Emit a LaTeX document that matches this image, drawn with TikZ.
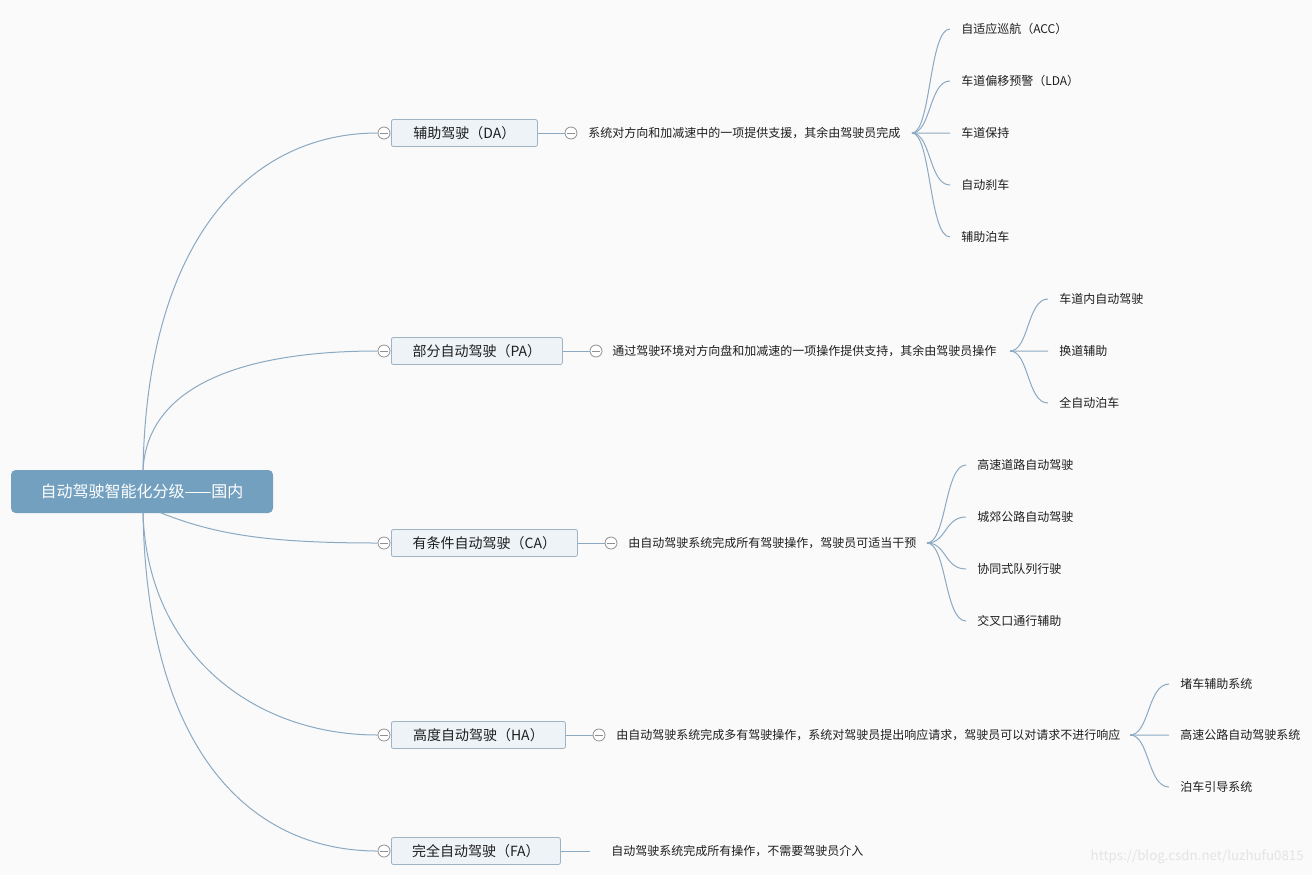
\documentclass[tikz,border=0pt]{standalone}
\usepackage{fontspec}
\setmainfont{Noto Sans CJK SC}
\usetikzlibrary{calc}
\definecolor{bg}{HTML}{FAFAFA}
\definecolor{rootfill}{HTML}{73A0BF}
\definecolor{boxfill}{HTML}{EEF3F7}
\definecolor{boxline}{HTML}{9FB3C3}
\definecolor{linkc}{HTML}{8BA9C2}
\definecolor{colc}{HTML}{909090}
\definecolor{txt}{HTML}{1E1E1E}
\definecolor{wm}{HTML}{E4E4E4}
\tikzset{
  rootbox/.style={fill=rootfill, rounded corners=3.5pt, minimum width=196.5pt, minimum height=32.25pt, text=white, font=\fontsize{12}{14}\selectfont, inner sep=0pt},
  l1box/.style={draw=boxline, line width=0.6pt, fill=boxfill, rounded corners=1.5pt, minimum height=20.25pt, anchor=west, text=txt, font=\fontsize{10.5}{12}\selectfont, inner sep=0pt},
  l2text/.style={anchor=west, inner sep=0pt, text=txt, font=\fontsize{9}{11}\selectfont},
  leaf/.style={anchor=west, inner xsep=8.25pt, inner ysep=0pt, text=txt, font=\fontsize{9}{11}\selectfont},
  colbtn/.style={circle, draw=colc, line width=0.6pt, fill=white, minimum size=9pt, inner sep=0pt,
    path picture={\draw[colc, line width=0.6pt] ($(path picture bounding box.center)+(-3pt,0)$) -- ($(path picture bounding box.center)+(3pt,0)$);}},
  link/.style={draw=linkc, line width=0.75pt},
}
\newcommand{\twig}[2]{\draw[link] (#1) .. controls ($(#1)!0.5!(#1 -| #2.west)$) and ($(#2.west)!0.55!(#1 |- #2.west)$) .. (#2.west);}
\begin{document}
\begin{tikzpicture}[x=0.75pt,y=-0.75pt]
\fill[bg] (0,0) rectangle (1312,875);
\useasboundingbox (0,0) rectangle (1312,875);

% root
\node[rootbox] (root) at (142,491.5) {自动驾驶智能化分级——国内};
\coordinate (rt) at (143,470.5);
\coordinate (rb) at (143,512.5);
\coordinate (rbc) at (160,512.5);

% level 1 boxes
\node[l1box, minimum width=109.5pt] (da) at (391,133) {辅助驾驶（DA）};
\node[l1box, minimum width=128.25pt] (pa) at (391,351) {部分自动驾驶（PA）};
\node[l1box, minimum width=139.5pt] (ca) at (391,543) {有条件自动驾驶（CA）};
\node[l1box, minimum width=130.5pt] (ha) at (391,735) {高度自动驾驶（HA）};
\node[l1box, minimum width=126.75pt] (fa) at (391,851) {完全自动驾驶（FA）};

% left collapse buttons
\node[colbtn] (dac) at (384,133) {};
\node[colbtn] (pac) at (384,351) {};
\node[colbtn] (cac) at (384,543) {};
\node[colbtn] (hac) at (384,735) {};
\node[colbtn] (fac) at (384,851) {};

% root connectors
\draw[link] (rt) .. controls +(4,-235) and +(-125,0) .. (dac.west);
\draw[link] (rt) .. controls +(4,-85) and +(-135,0) .. (pac.west);
\draw[link] (rbc) .. controls +(55,22) and +(-110,0) .. (cac.west);
\draw[link] (rb) .. controls +(4,140) and +(-125,0) .. (hac.west);
\draw[link] (rb) .. controls +(4,235) and +(-130,0) .. (fac.west);

% right collapse buttons
\node[colbtn] (dar) at (571,133) {};
\node[colbtn] (par) at (596,351) {};
\node[colbtn] (car) at (611,543) {};
\node[colbtn] (har) at (599,735) {};
\draw[link] (da.east) -- (dar.west);
\draw[link] (pa.east) -- (par.west);
\draw[link] (ca.east) -- (car.west);
\draw[link] (ha.east) -- (har.west);

% level 2 texts
\node[l2text] (dat) at (588,133) {系统对方向和加减速中的一项提供支援，其余由驾驶员完成};
\node[l2text] (pat) at (612,351) {通过驾驶环境对方向盘和加减速的一项操作提供支持，其余由驾驶员操作};
\node[l2text] (cat) at (628,543) {由自动驾驶系统完成所有驾驶操作，驾驶员可适当干预};
\node[l2text] (hat) at (616,735) {由自动驾驶系统完成多有驾驶操作，系统对驾驶员提出响应请求，驾驶员可以对请求不进行响应};
\node[l2text] (fat) at (611,851) {自动驾驶系统完成所有操作，不需要驾驶员介入};
\coordinate (fae) at (590,851);
\draw[link] (fa.east) -- (fae);

% branch points
\coordinate (dab) at (912,133);
\coordinate (pab) at (1010,351);
\coordinate (cab) at (927,543);
\coordinate (hab) at (1130,735);

% DA leaves
\node[leaf] (da1) at (950,29) {自适应巡航（ACC）};
\node[leaf] (da2) at (950,81) {车道偏移预警（LDA）};
\node[leaf] (da3) at (950,133) {车道保持};
\node[leaf] (da4) at (950,185) {自动刹车};
\node[leaf] (da5) at (950,237) {辅助泊车};
\foreach \n in {da1,da2,da3,da4,da5} {\twig{dab}{\n}}

% PA leaves
\node[leaf] (pa1) at (1048,299) {车道内自动驾驶};
\node[leaf] (pa2) at (1048,351) {换道辅助};
\node[leaf] (pa3) at (1048,403) {全自动泊车};
\foreach \n in {pa1,pa2,pa3} {\twig{pab}{\n}}

% CA leaves
\node[leaf] (ca1) at (966,465) {高速道路自动驾驶};
\node[leaf] (ca2) at (966,517) {城郊公路自动驾驶};
\node[leaf] (ca3) at (966,569) {协同式队列行驶};
\node[leaf] (ca4) at (966,621) {交叉口通行辅助};
\foreach \n in {ca1,ca2,ca3,ca4} {\twig{cab}{\n}}

% HA leaves
\node[leaf] (ha1) at (1169,684) {堵车辅助系统};
\node[leaf] (ha2) at (1169,735) {高速公路自动驾驶系统};
\node[leaf] (ha3) at (1169,787) {泊车引导系统};
\foreach \n in {ha1,ha2,ha3} {\twig{hab}{\n}}

% watermark
\node[anchor=east, inner sep=0pt, text=wm, font=\fontsize{10}{12}\selectfont] (wmk) at (1304,857) {https://blog.csdn.net/luzhufu0815};
\end{tikzpicture}
\end{document}
